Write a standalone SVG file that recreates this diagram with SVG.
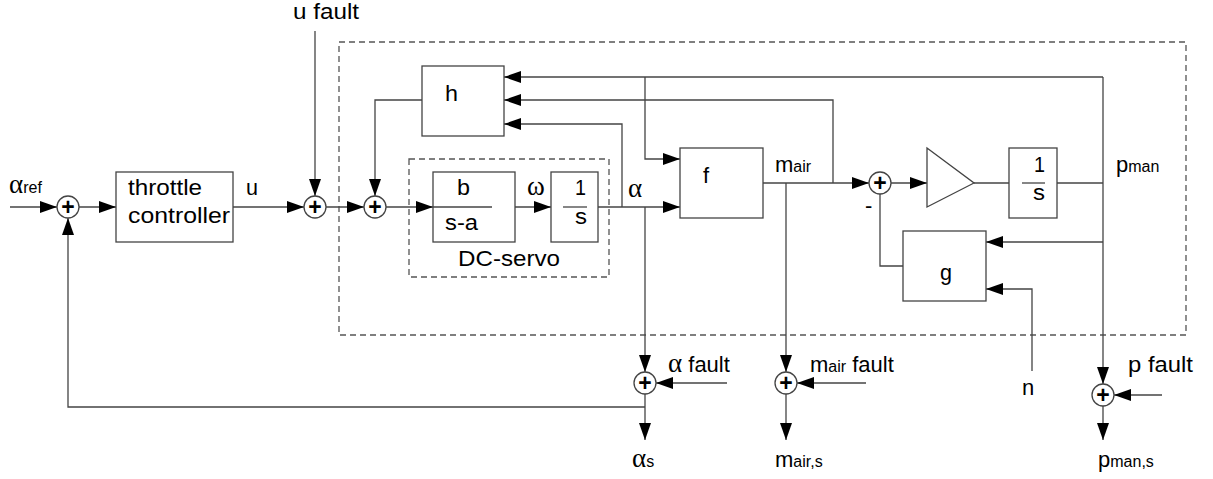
<svg xmlns="http://www.w3.org/2000/svg" width="1213" height="479" viewBox="0 0 1213 479">
<defs>
<marker id="ar" markerUnits="userSpaceOnUse" markerWidth="17" markerHeight="12" refX="17" refY="6" orient="auto">
<path d="M0,0 L17,6 L0,12 Z" fill="#000"/>
</marker>
<style>
.w{fill:none;stroke:#444;stroke-width:1.3}
.a{marker-end:url(#ar)}
.b{fill:#fff;stroke:#444;stroke-width:1.3}
.d{fill:none;stroke:#555;stroke-width:1.3;stroke-dasharray:6,4}
.t{font-family:"Liberation Sans",Arial,sans-serif;font-size:22px;fill:#000}
.s{font-size:16px}
.gr{font-family:"Liberation Serif","Times New Roman",serif;font-size:27px}
.p{font-family:"Liberation Sans",Arial,sans-serif;font-size:23px;font-weight:bold;text-anchor:middle;fill:#000}
.fb{stroke:#444;stroke-width:1.3}
</style>
</defs>
<rect width="1213" height="479" fill="#fff"/>
<g id="dashed-frames">
<rect class="d" x="339" y="42" width="847" height="293"/>
<rect class="d" x="409" y="159" width="200" height="118"/>
</g>
<g id="connectors">
<path class="w a" d="M10,207 H57"/>
<path class="w a" d="M79,207 H116"/>
<path class="w a" d="M233,207 H304"/>
<path class="w a" d="M315,31 V196"/>
<path class="w a" d="M326,207 H364"/>
<path class="w a" d="M386,207 H433"/>
<path class="w a" d="M422,100 H375 V196"/>
<path class="w a" d="M515,207 H551"/>
<path class="w a" d="M598,207 H680"/>
<path class="w a" d="M622,207 V124 H504"/>
<path class="w a" d="M645,207 V372"/>
<path class="w a" d="M645,407 H68 V218"/>
<path class="w a" d="M727,383 H656"/>
<path class="w a" d="M645,394 V440"/>
<path class="w a" d="M1103,77 H504"/>
<path class="w a" d="M645,77 V159 H680"/>
<path class="w a" d="M763,183 H869"/>
<path class="w a" d="M786,183 V372"/>
<path class="w a" d="M833,183 V100 H504"/>
<path class="w a" d="M866,383 H797"/>
<path class="w a" d="M786,394 V440"/>
<path class="w a" d="M891,183 H927"/>
<path class="w" d="M974,183 H1009"/>
<path class="w" d="M1057,183 H1103"/>
<path class="w a" d="M1103,77 V384"/>
<path class="w a" d="M1103,242 H986"/>
<path class="w a" d="M1032,371 V289 H986"/>
<path class="w" d="M903,266 H880 V194"/>
<path class="w a" d="M1162,395 H1114"/>
<path class="w a" d="M1103,406 V440"/>
</g>
<g id="sum-ref"><circle class="b" cx="68" cy="207" r="11"/><text class="p" x="68" y="215">+</text></g>
<g id="sum-ufault"><circle class="b" cx="315" cy="207" r="11"/><text class="p" x="315" y="215">+</text></g>
<g id="sum-h"><circle class="b" cx="375" cy="207" r="11"/><text class="p" x="375" y="215">+</text></g>
<g id="sum-p"><circle class="b" cx="880" cy="183" r="11"/><text class="p" x="880" y="191">+</text><text class="t" x="865" y="213">-</text></g>
<g id="sum-alpha"><circle class="b" cx="645" cy="383" r="11"/><text class="p" x="645" y="391">+</text></g>
<g id="sum-mair"><circle class="b" cx="786" cy="383" r="11"/><text class="p" x="786" y="391">+</text></g>
<g id="sum-pman"><circle class="b" cx="1103" cy="395" r="11"/><text class="p" x="1103" y="403">+</text></g>
<g id="throttle-controller">
<rect class="b" x="116" y="172" width="117" height="70"/>
<text class="t" x="128" y="195" textLength="74" lengthAdjust="spacingAndGlyphs">throttle</text>
<text class="t" x="128" y="223" textLength="102" lengthAdjust="spacingAndGlyphs">controller</text>
</g>
<g id="h-block">
<rect class="b" x="422" y="66" width="82" height="70"/>
<text class="t" x="445" y="101" textLength="13" lengthAdjust="spacingAndGlyphs">h</text>
</g>
<g id="motor">
<rect class="b" x="433" y="172" width="82" height="70"/>
<path class="fb" d="M433,207 H492"/>
<text class="t" x="457" y="195" textLength="13" lengthAdjust="spacingAndGlyphs">b</text>
<text class="t" x="445" y="230" textLength="33" lengthAdjust="spacingAndGlyphs">s-a</text>
</g>
<g id="servo-integrator">
<rect class="b" x="551" y="172" width="47" height="70"/>
<path class="fb" d="M563,207 H587"/>
<text class="t" x="575" y="195" textLength="11" lengthAdjust="spacingAndGlyphs">1</text>
<text class="t" x="575" y="224" textLength="12" lengthAdjust="spacingAndGlyphs">s</text>
</g>
<g id="f-block">
<rect class="b" x="680" y="148" width="83" height="70"/>
<text class="t" x="703" y="183">f</text>
</g>
<g id="gain">
<polygon class="b" points="927,148 974,183 927,207"/>
</g>
<g id="manifold-integrator">
<rect class="b" x="1009" y="148" width="48" height="70"/>
<path class="fb" d="M1022,183 H1045"/>
<text class="t" x="1034" y="172" textLength="11" lengthAdjust="spacingAndGlyphs">1</text>
<text class="t" x="1033" y="200" textLength="12" lengthAdjust="spacingAndGlyphs">s</text>
</g>
<g id="g-block">
<rect class="b" x="903" y="231" width="83" height="70"/>
<text class="t" x="940" y="280" textLength="12" lengthAdjust="spacingAndGlyphs">g</text>
</g>
<g id="labels">
<text class="t" x="9" y="193"><tspan class="gr">α</tspan><tspan class="s">ref</tspan></text>
<text class="t" x="246" y="195" textLength="12" lengthAdjust="spacingAndGlyphs">u</text>
<text class="t" x="293" y="19" textLength="66" lengthAdjust="spacingAndGlyphs">u fault</text>
<text class="t gr" x="527" y="195">ω</text>
<text class="t gr" x="628" y="197">α</text>
<text class="t" x="458" y="266" textLength="102" lengthAdjust="spacingAndGlyphs">DC-servo</text>
<text class="t" x="775" y="172">m<tspan class="s">air</tspan></text>
<text class="t" x="1116" y="172">p<tspan class="s">man</tspan></text>
<text class="t" x="668" y="372"><tspan class="gr">α</tspan> fault</text>
<text class="t" x="810" y="372">m<tspan class="s">air</tspan> fault</text>
<text class="t" x="1128" y="372" textLength="65" lengthAdjust="spacingAndGlyphs">p fault</text>
<text class="t" x="1022" y="395">n</text>
<text class="t" x="632" y="467"><tspan class="gr">α</tspan><tspan class="s">s</tspan></text>
<text class="t" x="775" y="467">m<tspan class="s">air,s</tspan></text>
<text class="t" x="1098" y="467">p<tspan class="s">man,s</tspan></text>
</g>
</svg>
